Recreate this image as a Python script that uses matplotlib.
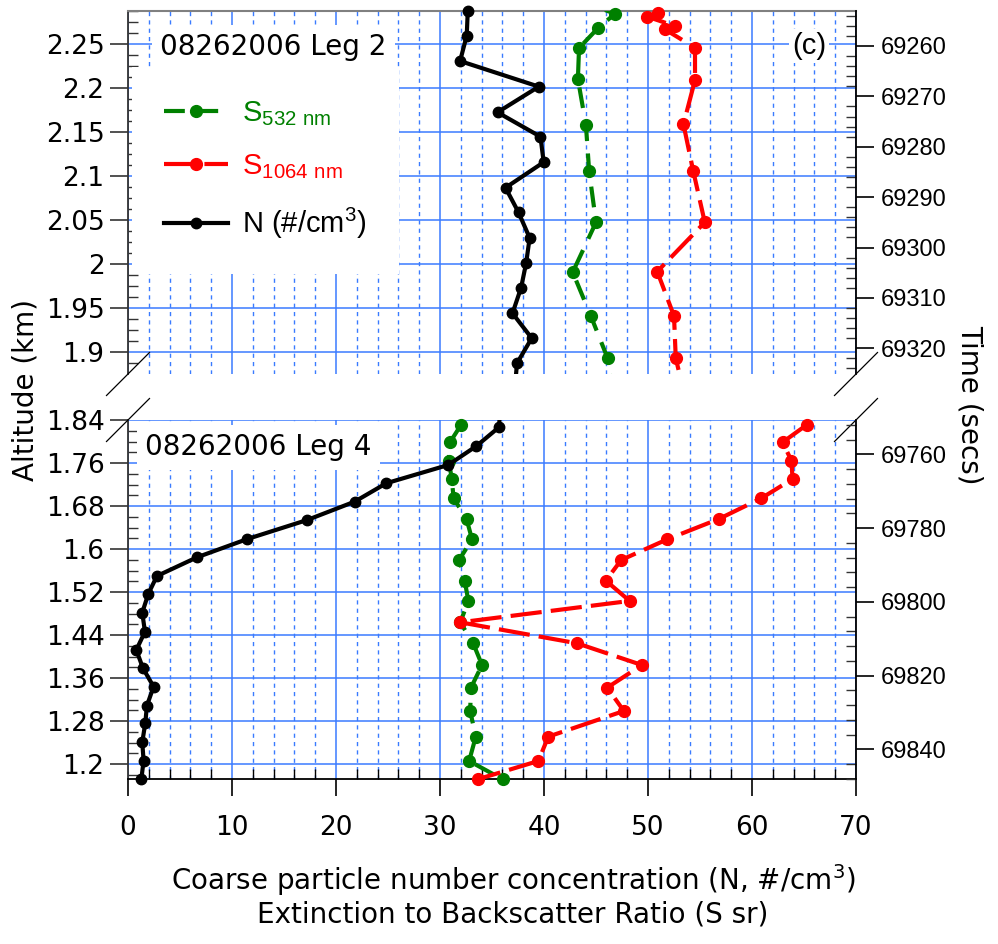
import matplotlib
matplotlib.use("Agg")
import matplotlib.pyplot as plt
from matplotlib.lines import Line2D
from matplotlib.ticker import MultipleLocator, FixedLocator
import numpy as np

# ---------------- data ----------------
# Leg 2 (upper panel): altitude (km) and values
leg2_alt_n = [2.288, 2.2598, 2.231, 2.2019, 2.1727, 2.145, 2.116, 2.087, 2.059,
              2.030, 2.0019, 1.9735, 1.9443, 1.916, 1.8875, 1.859]
leg2_n = [32.67, 32.57, 31.93, 39.5, 35.53, 39.66, 39.97, 36.3, 37.55,
          38.62, 38.29, 37.8, 36.97, 38.82, 37.4, 37.2]

leg2_alt_s532 = [2.289, 2.2847, 2.2685, 2.2458, 2.2106, 2.1583, 2.106, 2.0477,
                 1.991, 1.9413, 1.8932, 1.862]
leg2_s532 = [45.87, 46.83, 45.2, 43.37, 43.26, 44.03, 44.34, 45.0,
             42.76, 44.5, 46.12, 46.5]

leg2_alt_s1064 = [2.2859, 2.2814, 2.2708, 2.267, 2.2461, 2.2095, 2.1591, 2.106,
                  2.0477, 1.9917, 1.9413, 1.8932, 1.862]
leg2_s1064 = [50.99, 49.93, 52.6, 51.63, 54.52, 54.52, 53.41, 54.35,
              55.46, 50.89, 52.5, 52.67, 53.3]

# Leg 4 (lower panel)
leg4_alt_n = [1.862, 1.827, 1.792, 1.7568, 1.7227, 1.6885, 1.6544, 1.619, 1.5849,
              1.550, 1.5166, 1.4818, 1.4464, 1.4123, 1.3782, 1.344, 1.3087,
              1.2758, 1.2404, 1.2062, 1.1715]
leg4_n = [35.8, 35.67, 33.5, 30.8, 24.83, 21.8, 17.24, 11.49, 6.64,
          2.78, 1.95, 1.37, 1.63, 0.80, 1.44, 2.46, 1.82,
          1.66, 1.37, 1.5, 1.28]

leg4_alt_s = [1.8313, 1.799, 1.7649, 1.7307, 1.6947, 1.6563, 1.6184, 1.5799,
              1.5414, 1.5036, 1.4638, 1.4247, 1.3843, 1.3421, 1.2987, 1.2509,
              1.2056, 1.1715]
leg4_s532 = [32.02, 30.96, 30.85, 31.13, 31.31, 32.55, 33.08, 31.84,
             32.37, 32.73, 31.95, 33.19, 34.04, 32.98, 32.9, 33.44,
             32.8, 36.02]
leg4_s1064 = [65.25, 62.94, 63.79, 63.9, 60.89, 56.82, 51.86, 47.43,
              45.94, 48.24, 31.95, 43.18, 49.41, 46.08, 47.68, 40.41,
              39.46, 33.61]

# axis ticks / labels
x_ticks = [0, 10, 20, 30, 40, 50, 60, 70]
alt_ticks_leg2 = [1.9, 1.95, 2.0, 2.05, 2.1, 2.15, 2.2, 2.25]
alt_labels_leg2 = ["1.9", "1.95", "2", "2.05", "2.1", "2.15", "2.2", "2.25"]
alt_ticks_leg4 = [1.2, 1.28, 1.36, 1.44, 1.52, 1.6, 1.68, 1.76, 1.84]
alt_labels_leg4 = ["1.2", "1.28", "1.36", "1.44", "1.52", "1.6", "1.68", "1.76", "1.84"]
time_ticks_leg2 = [69260, 69270, 69280, 69290, 69300, 69310, 69320]
time_ticks_leg4 = [69760, 69780, 69800, 69820, 69840]

# ---------------- style ----------------
COMIC = "DejaVu Sans"
ARIAL = "Liberation Sans"
GRID = "#3a7bff"
GREEN = "#008000"
RED = "#ff0000"

W, H = 998, 944
fig = plt.figure(figsize=(W / 100, H / 100), dpi=100)

left, right = 128, 856
ax_top = fig.add_axes([left / W, 1 - 374 / H, (right - left) / W, (374 - 10.7) / H])
ax_bot = fig.add_axes([left / W, 1 - 779.3 / H, (right - left) / W, (779.3 - 420) / H])

styles = {
    "s532": dict(color=GREEN, lw=3.0, ls=(0, (5, 3)), ms=8.5, z=3),
    "n": dict(color="black", lw=3.0, ls="-", ms=7.5, z=4),
    "s1064": dict(color=RED, lw=3.0, ls=(0, (7.5, 2.2)), ms=8.5, z=5),
}


def draw_series(ax, xv, yv, st, ylim):
    xv = np.asarray(xv)
    yv = np.asarray(yv)
    ax.plot(xv, yv, color=st["color"], lw=st["lw"], ls=st["ls"],
            zorder=st["z"], solid_capstyle="butt", dash_capstyle="butt")
    inside = (yv >= ylim[0] - 1e-6) & (yv <= ylim[1] + 1e-6)
    ax.plot(xv[inside], yv[inside], ls="none", marker="o", ms=st["ms"],
            color=st["color"], zorder=st["z"] + 0.5, clip_on=False)


def style_axis(ax, alt_ticks, alt_labels, alt_lim, minor_alt):
    ax.set_xlim(0, 70)
    ax.set_ylim(*alt_lim)
    ax.xaxis.set_major_locator(FixedLocator(x_ticks))
    ax.xaxis.set_minor_locator(MultipleLocator(2))
    ax.yaxis.set_major_locator(FixedLocator(alt_ticks))
    ax.set_yticklabels(alt_labels, fontfamily=COMIC, fontsize=19)
    ax.yaxis.set_minor_locator(MultipleLocator(minor_alt))
    ax.grid(which="major", axis="both", color=GRID, lw=1.1, ls="-", zorder=0)
    ax.grid(which="minor", axis="x", color=GRID, lw=1.0, ls=(0, (3, 3)), zorder=0)
    ax.set_axisbelow(True)
    ax.tick_params(axis="y", which="major", direction="out", length=13, width=1.2,
                   color="#333333", pad=4)
    ax.tick_params(axis="y", which="minor", direction="in", length=7, width=1.0,
                   color="#333333")
    ax.spines["left"].set_color("#333333")
    ax.spines["left"].set_linewidth(1.3)
    ax.spines["right"].set_visible(False)


def style_time(ax, ticks, tlim, minor_t):
    tw = ax.twinx()
    tw.set_ylim(*tlim)
    tw.yaxis.set_major_locator(FixedLocator(ticks))
    tw.yaxis.set_minor_locator(MultipleLocator(minor_t))
    tw.set_yticklabels([str(t) for t in ticks], fontfamily=ARIAL, fontsize=17)
    tw.tick_params(axis="y", which="major", direction="out", length=13, width=1.2,
                   color="black", pad=5)
    tw.tick_params(axis="y", which="minor", direction="in", length=7, width=1.0,
                   color="#333333")
    for s in ("left", "top", "bottom"):
        tw.spines[s].set_visible(False)
    tw.spines["right"].set_color("black")
    tw.spines["right"].set_linewidth(1.3)
    return tw


# ---------------- upper panel: Leg 2 ----------------
top_lim = (1.8753, 2.2882)
style_axis(ax_top, alt_ticks_leg2, alt_labels_leg2, top_lim, 0.0125)
ax_top.spines["bottom"].set_visible(False)
ax_top.spines["top"].set_color("#808080")
ax_top.spines["top"].set_linewidth(1.5)
ax_top.tick_params(axis="x", which="both", bottom=False, labelbottom=False)

draw_series(ax_top, leg2_s532, leg2_alt_s532, styles["s532"], top_lim)
draw_series(ax_top, leg2_n, leg2_alt_n, styles["n"], top_lim)
draw_series(ax_top, leg2_s1064, leg2_alt_s1064, styles["s1064"], top_lim)
style_time(ax_top, time_ticks_leg2, (69325.1, 69253.0), 2)

ax_top.text(0.044, 0.9, "08262006 Leg 2", transform=ax_top.transAxes,
            fontfamily=COMIC, fontsize=20, va="center", ha="left", zorder=6,
            bbox=dict(facecolor="white", edgecolor="none", pad=6))
ax_top.text(0.936, 0.903, "(c)", transform=ax_top.transAxes,
            fontfamily=ARIAL, fontsize=21, va="center", ha="center", zorder=6,
            bbox=dict(facecolor="white", edgecolor="none", pad=2))

handles = []
for key, lab in (("s532", r"S$_{\mathregular{532\ nm}}$"),
                 ("s1064", r"S$_{\mathregular{1064\ nm}}$"),
                 ("n", r"N (#/cm$^{\mathregular{3}}$)")):
    st = styles[key]
    handles.append(Line2D([], [], color=st["color"], lw=st["lw"], ls=st["ls"],
                          marker="o", ms=st["ms"], label=lab))
leg = ax_top.legend(handles=handles, loc="upper left",
                    bbox_to_anchor=(0.005, 0.845), frameon=True, fancybox=False,
                    framealpha=1, edgecolor="none", facecolor="white",
                    prop=dict(family=ARIAL, size=21), labelcolor="linecolor",
                    handlelength=2.2, handletextpad=0.5, labelspacing=0.85,
                    borderpad=1.1, borderaxespad=0)
leg.set_zorder(6)

# ---------------- lower panel: Leg 4 ----------------
bot_lim = (1.1715, 1.8405)
style_axis(ax_bot, alt_ticks_leg4, alt_labels_leg4, bot_lim, 0.02)
ax_bot.spines["top"].set_visible(False)
ax_bot.spines["bottom"].set_color("black")
ax_bot.spines["bottom"].set_linewidth(1.3)
ax_bot.set_xticks(x_ticks)
ax_bot.set_xticklabels([str(t) for t in x_ticks], fontfamily=COMIC, fontsize=19)
ax_bot.tick_params(axis="x", which="major", direction="out", length=12, width=1.2,
                   color="black", pad=14)
ax_bot.tick_params(axis="x", which="minor", direction="in", length=7, width=1.0,
                   color="black")

draw_series(ax_bot, leg4_s532, leg4_alt_s, styles["s532"], bot_lim)
draw_series(ax_bot, leg4_n, leg4_alt_n, styles["n"], bot_lim)
draw_series(ax_bot, leg4_s1064, leg4_alt_s, styles["s1064"], bot_lim)
style_time(ax_bot, time_ticks_leg4, (69848.1, 69750.7), 4)

ax_bot.text(0.024, 0.924, "08262006 Leg 4", transform=ax_bot.transAxes,
            fontfamily=COMIC, fontsize=20, va="center", ha="left", zorder=6,
            bbox=dict(facecolor="white", edgecolor="none", pad=6))

# ---------------- axis-break marks ----------------
dxp, dyp = 21.5, 21.5
for ax, yc in ((ax_top, 0.0), (ax_bot, 1.0)):
    bb = ax.get_position()
    dx = dxp / (bb.width * W)
    dy = dyp / (bb.height * H)
    for xc in (0.0, 1.0):
        ax.plot([xc - dx, xc + dx], [yc - dy, yc + dy], transform=ax.transAxes,
                color="black", lw=0.9, clip_on=False, zorder=7)

# ---------------- axis titles ----------------
fig.text(0.026, 1 - 390 / H, "Altitude (km)", rotation=90, fontfamily=COMIC,
         fontsize=20, ha="center", va="center")
fig.text(0.972, 1 - 405 / H, "Time (secs)", rotation=270, fontfamily=COMIC,
         fontsize=20, ha="center", va="center")
fig.text(513 / W, 1 - 880 / H, r"Coarse particle number concentration (N, #/cm$^3$)",
         fontfamily=COMIC, fontsize=20, ha="center", va="center")
fig.text(513 / W, 1 - 914 / H, "Extinction to Backscatter Ratio (S sr)",
         fontfamily=COMIC, fontsize=20, ha="center", va="center")

fig.savefig("out.png", dpi=100)
